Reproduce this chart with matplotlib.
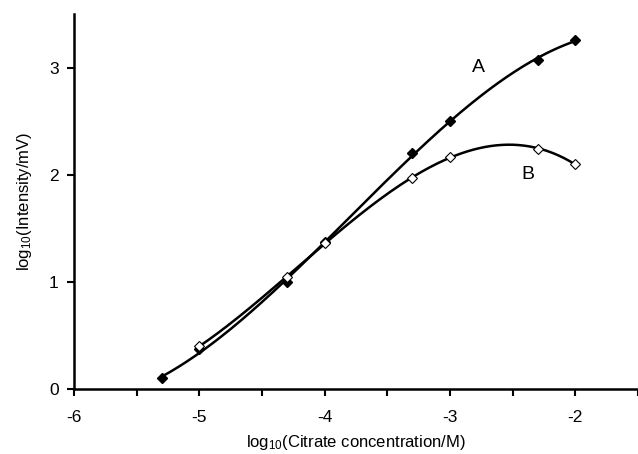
import numpy as np
import matplotlib
matplotlib.use("Agg")
import matplotlib.pyplot as plt

plt.rcParams['font.family'] = ['Liberation Sans', 'DejaVu Sans']
plt.rcParams['mathtext.default'] = 'regular'
plt.rcParams['axes.unicode_minus'] = False

# data
conc_a = [-5.3, -5.0, -4.3, -4.0, -3.3, -3.0, -2.3, -2.0]
int_a = [0.10, 0.37, 1.00, 1.37, 2.20, 2.50, 3.07, 3.26]
conc_b = [-5.0, -4.3, -4.0, -3.3, -3.0, -2.3, -2.0]
int_b = [0.40, 1.05, 1.36, 1.97, 2.17, 2.24, 2.10]

fig = plt.figure(figsize=(6.38, 4.54), dpi=100)
ax = fig.add_axes([0.116, 0.143, 0.884, 0.826])

# polynomial trendlines through each series
for xs, ys in [(conc_a, int_a), (conc_b, int_b)]:
    coef = np.polyfit(xs, ys, 3)
    xx = np.linspace(min(xs), max(xs), 200)
    ax.plot(xx, np.polyval(coef, xx), color='black', lw=1.8, zorder=2)

ax.plot(conc_a, int_a, 'D', color='black', ms=5, zorder=3)
ax.plot(conc_b, int_b, 'D', mfc='white', mec='black', mew=0.8, ms=5, zorder=3)

ax.text(-2.77, 3.0, 'A', fontsize=14, ha='center', va='center')
ax.text(-2.38, 2.0, 'B', fontsize=14, ha='center', va='center')

ax.set_xlim(-6, -1.5)
ax.set_ylim(0, 3.5)
ax.set_xticks([-6, -5, -4, -3, -2])
ax.set_xticks(np.arange(-5.5, -1.4, 1.0), minor=True)
ax.set_yticks([0, 1, 2, 3])
ax.tick_params(which='both', direction='out', length=5, width=1.5, labelsize=12.5)
ax.tick_params(axis='x', pad=10)
ax.tick_params(axis='y', pad=6)
for s in ['top', 'right']:
    ax.spines[s].set_visible(False)
for s in ['left', 'bottom']:
    ax.spines[s].set_linewidth(1.8)

ax.set_xlabel('log$_{10}$(Citrate concentration/M)', fontsize=12, labelpad=6)
ax.set_ylabel('log$_{10}$(Intensity/mV)', fontsize=12, labelpad=11)

fig.savefig('out.png', dpi=100)
